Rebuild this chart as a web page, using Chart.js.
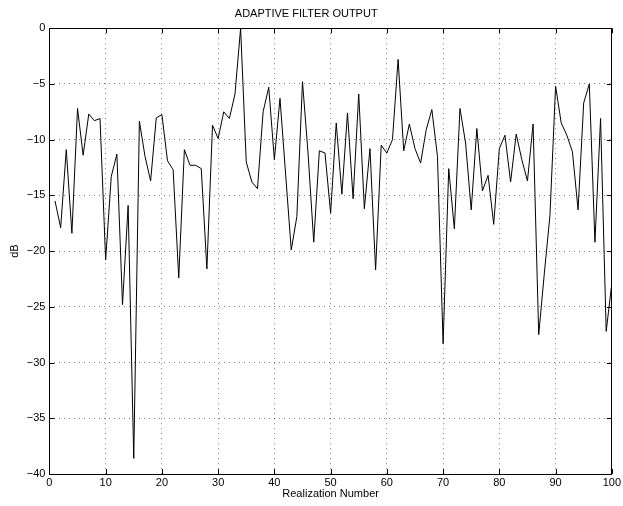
<!DOCTYPE html>
<html>
<head>
<meta charset="utf-8">
<script src="https://cdn.jsdelivr.net/npm/chart.js@4"></script>
<style>
  html, body { margin: 0; padding: 0; background: #fff; }
  #wrap { width: 623px; height: 506px; }
</style>
</head>
<body>
<div id="wrap"><canvas id="filterChart" width="623" height="506"></canvas></div>
<script>
// Realization index (x) and adaptive filter output in dB (y)
const realizations = [
  1, 2, 3, 4, 5, 6, 7, 8, 9, 10, 11, 12, 13, 14, 15, 16, 17, 18, 19, 20,
  21, 22, 23, 24, 25, 26, 27, 28, 29, 30, 31, 32, 33, 34, 35, 36, 37, 38, 39, 40,
  41, 42, 43, 44, 45, 46, 47, 48, 49, 50, 51, 52, 53, 54, 55, 56, 57, 58, 59, 60,
  61, 62, 63, 64, 65, 66, 67, 68, 69, 70, 71, 72, 73, 74, 75, 76, 77, 78, 79, 80,
  81, 82, 83, 84, 85, 86, 87, 88, 89, 90, 91, 92, 93, 94, 95, 96, 97, 98, 99, 100
];
const outputDb = [
  -15.5, -17.9, -10.9, -18.4, -7.2, -11.4, -7.7, -8.3, -8.1, -20.8,
  -13.3, -11.3, -24.8, -15.9, -38.6, -8.35, -11.5, -13.7, -8.05, -7.75,
  -11.9, -12.7, -22.4, -10.9, -12.3, -12.3, -12.6, -21.6, -8.7, -9.9,
  -7.5, -8.1, -5.9, 0, -12.0, -13.8, -14.4, -7.5, -5.3, -11.8,
  -6.3, -13.1, -19.9, -16.9, -4.8, -11.3, -19.2, -11.0, -11.2, -16.6,
  -8.5, -14.9, -7.6, -15.3, -5.9, -16.2, -10.8, -21.7, -10.5, -11.2,
  -10.0, -2.8, -11.0, -8.6, -10.8, -12.1, -9.1, -7.3, -11.5, -28.3,
  -12.6, -18.0, -7.2, -10.3, -16.3, -9.0, -14.6, -13.2, -17.6, -10.8,
  -9.6, -13.8, -9.5, -11.8, -13.7, -8.6, -27.5, -22.0, -16.8, -5.2,
  -8.5, -9.6, -11.1, -16.3, -6.7, -5.0, -19.2, -8.1, -27.2, -22.9
];
const xTicks = [0, 10, 20, 30, 40, 50, 60, 70, 80, 90, 100];
const yTicks = [-40, -35, -30, -25, -20, -15, -10, -5, 0];

const FONT = "'Liberation Sans', Arial, Helvetica, sans-serif";
const points = realizations.map((x, i) => ({ x: x, y: outputDb[i] }));

// MATLAB style box with inward tick marks on all four sides
const boxPlugin = {
  id: 'boxPlugin',
  afterDraw(chart) {
    const { ctx, chartArea: a, scales } = chart;
    const len = 5;
    ctx.save();
    ctx.strokeStyle = '#000';
    ctx.lineWidth = 1;
    ctx.beginPath();
    xTicks.forEach(v => {
      const px = Math.round(scales.x.getPixelForValue(v)) + 0.5;
      ctx.moveTo(px, a.bottom); ctx.lineTo(px, a.bottom - len);
      ctx.moveTo(px, a.top); ctx.lineTo(px, a.top + len);
    });
    yTicks.forEach(v => {
      const py = Math.round(scales.y.getPixelForValue(v)) + 0.5;
      ctx.moveTo(a.left, py); ctx.lineTo(a.left + len, py);
      ctx.moveTo(a.right, py); ctx.lineTo(a.right - len, py);
    });
    ctx.stroke();
    ctx.strokeRect(Math.round(a.left) + 0.5, Math.round(a.top) + 0.5,
      Math.round(a.right - a.left), Math.round(a.bottom - a.top));
    ctx.restore();
  }
};

new Chart(document.getElementById('filterChart'), {
  type: 'line',
  data: {
    datasets: [{
      data: points,
      borderColor: '#000',
      borderWidth: 1,
      pointRadius: 0,
      tension: 0,
      fill: false
    }]
  },
  options: {
    responsive: false,
    animation: false,
    layout: { padding: { top: 0, right: 10.6, left: 0, bottom: 0 } },
    plugins: {
      legend: { display: false },
      tooltip: { enabled: false },
      title: {
        display: true,
        text: 'ADAPTIVE FILTER OUTPUT',
        color: '#000',
        font: { family: FONT, size: 11, weight: 'normal' },
        padding: { top: 7, bottom: 8 }
      }
    },
    scales: {
      x: {
        type: 'linear',
        min: 0,
        max: 100,
        afterFit(scale) { scale.height = 32; },
        afterBuildTicks(scale) { scale.ticks = xTicks.map(v => ({ value: v })); },
        ticks: { color: '#000', padding: 2, maxRotation: 0, font: { family: FONT, size: 11 } },
        grid: { color: 'rgba(0,0,0,0.5)', drawTicks: false },
        border: { display: false, dash: [1, 4] },
        title: {
          display: true,
          text: 'Realization Number',
          color: '#000',
          font: { family: FONT, size: 11 },
          padding: { top: 0, bottom: 5 }
        }
      },
      y: {
        type: 'linear',
        min: -40,
        max: 0,
        afterFit(scale) { scale.width = 49.4; },
        afterBuildTicks(scale) { scale.ticks = yTicks.map(v => ({ value: v })); },
        ticks: {
          color: '#000',
          padding: 4,
          font: { family: FONT, size: 11 },
          callback: v => (v < 0 ? '\u2212' + Math.abs(v) : String(v))
        },
        grid: { color: 'rgba(0,0,0,0.5)', drawTicks: false },
        border: { display: false, dash: [1, 4] },
        title: {
          display: true,
          text: 'dB',
          color: '#000',
          font: { family: FONT, size: 11 },
          padding: { top: 8, bottom: 0 }
        }
      }
    }
  },
  plugins: [boxPlugin]
});
</script>
</body>
</html>
